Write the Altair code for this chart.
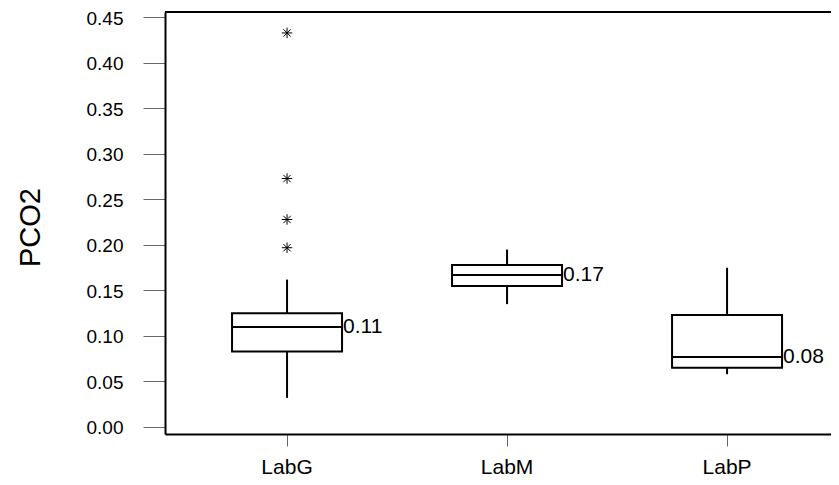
import altair as alt
import pandas as pd

labs = ["LabG", "LabM", "LabP"]
whisker_low = [0.032, 0.135, 0.058]
q1 = [0.083, 0.155, 0.065]
median = [0.110, 0.167, 0.077]
q3 = [0.125, 0.178, 0.123]
whisker_high = [0.162, 0.195, 0.175]

outlier_lab = ["LabG", "LabG", "LabG", "LabG"]
outlier_val = [0.433, 0.273, 0.228, 0.197]

y_ticks = [0.00, 0.05, 0.10, 0.15, 0.20, 0.25, 0.30, 0.35, 0.40, 0.45]

box = pd.DataFrame({"lab": labs, "lo": whisker_low, "q1": q1, "med": median,
                    "q3": q3, "hi": whisker_high})
out = pd.DataFrame({"lab": outlier_lab, "val": outlier_val})

FONT = "Liberation Sans"
W, H = 666, 422

xscale = alt.Scale(domain=labs, paddingInner=0.5, paddingOuter=0.2636, align=0.578)
yscale = alt.Scale(domain=[-0.0077, 0.4560], nice=False, zero=False)

xenc = alt.X("lab:N", scale=xscale, sort=labs,
             axis=alt.Axis(title=None, labelAngle=0, labelFontSize=21, labelFont=FONT,
                           labelColor="black", tickColor="#666666", tickSize=12,
                           tickWidth=1, labelPadding=10, domainColor="black",
                           domainWidth=2))
yaxis = alt.Axis(title="PCO2", values=y_ticks, format=".2f", labelFontSize=19,
                 labelOffset=1,
                 labelFont=FONT, labelColor="black", tickColor="#666666", tickSize=22,
                 tickWidth=1, labelPadding=20, domainColor="black", domainWidth=2,
                 grid=False, titleFont=FONT, titleFontSize=29, titleFontWeight="normal",
                 titleColor="black", titleAngle=270, titleX=-126, titleY=215,
                 titleAlign="center", titleBaseline="alphabetic")

base = alt.Chart(box)

whiskers = base.mark_rule(color="black", strokeWidth=2).encode(
    x=xenc,
    y=alt.Y("lo:Q", scale=yscale, axis=yaxis),
    y2="hi:Q",
)

boxes = base.mark_bar(fill="white", stroke="black", strokeWidth=2, opacity=1).encode(
    x=alt.X("lab:N", scale=xscale, sort=labs),
    y=alt.Y("q1:Q", scale=yscale),
    y2="q3:Q",
)

medians = base.mark_tick(color="black", thickness=2, size=110, opacity=1).encode(
    x=alt.X("lab:N", scale=xscale, sort=labs),
    y=alt.Y("med:Q", scale=yscale),
)

med_labels = base.mark_text(align="left", baseline="middle", dx=56, fontSize=21,
                            font=FONT, color="black").encode(
    x=alt.X("lab:N", scale=xscale, sort=labs),
    y=alt.Y("med:Q", scale=yscale),
    text=alt.Text("med:Q", format=".2f"),
)

asterisk = "M0,-1L0,1M-1,0L1,0M-0.7,-0.7L0.7,0.7M-0.7,0.7L0.7,-0.7"
outliers = alt.Chart(out).mark_point(shape=asterisk, size=110, filled=False,
                                     color="black", strokeWidth=1, opacity=1).encode(
    x=alt.X("lab:N", scale=xscale, sort=labs),
    y=alt.Y("val:Q", scale=yscale),
)

top_line = base.mark_rule(color="black", strokeWidth=2).encode(
    x=alt.value(0), x2=alt.value(W), y=alt.value(0)
)

chart = alt.layer(whiskers, boxes, medians, med_labels, outliers, top_line).properties(
    width=W, height=H,
    autosize=alt.AutoSizeParams(type="none"),
    padding={"left": 157, "top": 4, "right": 0, "bottom": 43},
).configure_view(stroke=None).configure(background="white")

chart.save("out.html", embed_options={"renderer": "svg", "actions": False})
